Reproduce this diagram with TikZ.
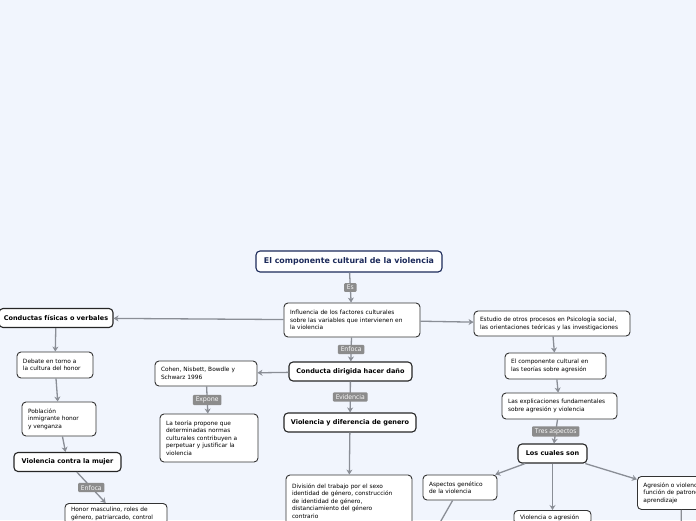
\documentclass[tikz,border=0pt]{standalone}
\usepackage{fontspec}
\setmainfont{DejaVu Sans}
\newfontfamily\tagfont{Open Sans}
\usetikzlibrary{arrows.meta,positioning}
\definecolor{bgcolor}{RGB}{241,245,253}
\definecolor{navy}{RGB}{28,42,90}
\definecolor{edgegray}{RGB}{51,51,51}
\definecolor{linkgray}{RGB}{138,142,150}
\definecolor{taggray}{RGB}{140,140,140}

\begin{document}
\begin{tikzpicture}[
    x=1pt, y=-1pt,
    box/.style={draw=edgegray, fill=white, rounded corners=4pt, line width=0.9pt, align=left, inner xsep=6pt, inner ysep=4pt, font=\fontsize{5.85}{7.6}\selectfont},
    main/.style={draw=black!85, fill=white, rounded corners=4pt, line width=1.1pt, inner sep=0pt, minimum height=19pt, font=\bfseries\fontsize{6.5}{7}\selectfont},
    title/.style={main, draw=navy, text=navy, minimum width=186pt, minimum height=21pt, font=\bfseries\fontsize{7.9}{8}\selectfont},
    tag/.style={fill=taggray, text=white, rounded corners=1pt, inner xsep=2.8pt, inner ysep=2pt, font=\tagfont\fontsize{6.6}{7}\selectfont},
    link/.style={draw=linkgray, line width=1.3pt, -{Stealth[length=5pt, width=6pt]}},
    >=Stealth
  ]
  \useasboundingbox (0,0) rectangle (696,520);
  \fill[bgcolor] (0,0) rectangle (696,520);
  \clip (0,0) rectangle (696,520);

  % centre
  \node[title] (root) at (349,261.5) {El componente cultural de la violencia};
  \node[box, text width=124pt, minimum height=34pt] (infl) at (352,320) {Influencia de los factores culturales\\ sobre las variables que intervienen en\\ la violencia};
  \node[main, minimum width=123pt] (dano) at (350.5,371.5) {Conducta dirigida hacer daño};
  \node[main, minimum width=132pt] (genero) at (350,422.5) {Violencia y diferencia de genero};
  \node[box, text width=114pt, minimum height=52pt] (trabajo) at (349,501) {División del trabajo por el sexo\\ identidad de género, construcción\\ de identidad de género,\\ distanciamiento del género\\ contrario};
  \node[box, text width=90pt, minimum height=25pt] (cohen) at (206,373.5) {Cohen, Nisbett, Bowdle y\\ Schwarz 1996};
  \node[box, text width=86pt, minimum height=48pt] (teoria) at (209,438) {La teoría propone que\\ determinadas normas\\ culturales contribuyen a\\ perpetuar y justificar la\\ violencia};

  % left
  \node[main, minimum width=114pt] (fisicas) at (56,318) {Conductas físicas o verbales};
  \node[box, text width=64pt, minimum height=26pt] (debate) at (55,365) {Debate en torno a\\ la cultura del honor};
  \node[box, text width=62pt, minimum height=34pt] (poblacion) at (59,419) {Población\\ inmigrante honor\\ y venganza};
  \node[main, minimum width=107pt] (mujer) at (67.5,462) {Violencia contra la mujer};
  \node[box, text width=90pt, anchor=north] (honor) at (116,503) {Honor masculino, roles de\\ género, patriarcado, control};

  % right
  \node[box, text width=144pt, minimum height=25pt] (estudio) at (552,323.5) {Estudio de otros procesos en Psicología social,\\ las orientaciones teóricas y las investigaciones};
  \node[box, text width=89pt, minimum height=26pt] (cultural) at (555.5,366) {El componente cultural en\\ las teorías sobre agresión};
  \node[box, text width=103pt, minimum height=26pt] (explica) at (559.5,406) {Las explicaciones fundamentales\\ sobre agresión y violencia};
  \node[main, minimum width=69pt] (cuales) at (552.5,453.5) {Los cuales son};
  \node[box, text width=62pt, minimum height=25pt] (genetico) at (460,487.5) {Aspectos genético\\ de la violencia};
  \node[box, text width=65pt, anchor=north] (agresion) at (552.5,510) {Violencia o agresión};
  \node[box, text width=76pt, minimum height=33pt, anchor=north west] (aprendizaje) at (637,476) {Agresión o violencia en\\ función de patrones de\\ aprendizaje};

  \coordinate (genout) at (430,540);
  \coordinate (aprout) at (681,560);

  \draw[link] (root) -- node[tag]{Es} (infl);
  \draw[link] (infl) -- (fisicas);
  \draw[link] (infl) -- (estudio);
  \draw[link] (infl) -- node[tag]{Enfoca} (dano);
  \draw[link] (dano) -- (cohen);
  \draw[link] (cohen) -- node[tag]{Expone} (teoria);
  \draw[link] (dano) -- node[tag]{Evidencia} (genero);
  \draw[link] (genero) -- (trabajo);
  \draw[link] (fisicas) -- (debate);
  \draw[link] (debate) -- (poblacion);
  \draw[link] (poblacion) -- (mujer);
  \draw[link] (mujer) -- node[tag]{Enfoca} (honor);
  \draw[link] (estudio) -- (cultural);
  \draw[link] (cultural) -- (explica);
  \draw[link] (explica) -- node[tag]{Tres aspectos} (cuales);
  \draw[link] (cuales) -- (genetico);
  \draw[link] (cuales) -- (agresion);
  \draw[link] (cuales) -- (aprendizaje);
  \draw[link] (genetico) -- (genout);
  \draw[link] (aprendizaje) -- (aprout);
\end{tikzpicture}
\end{document}
